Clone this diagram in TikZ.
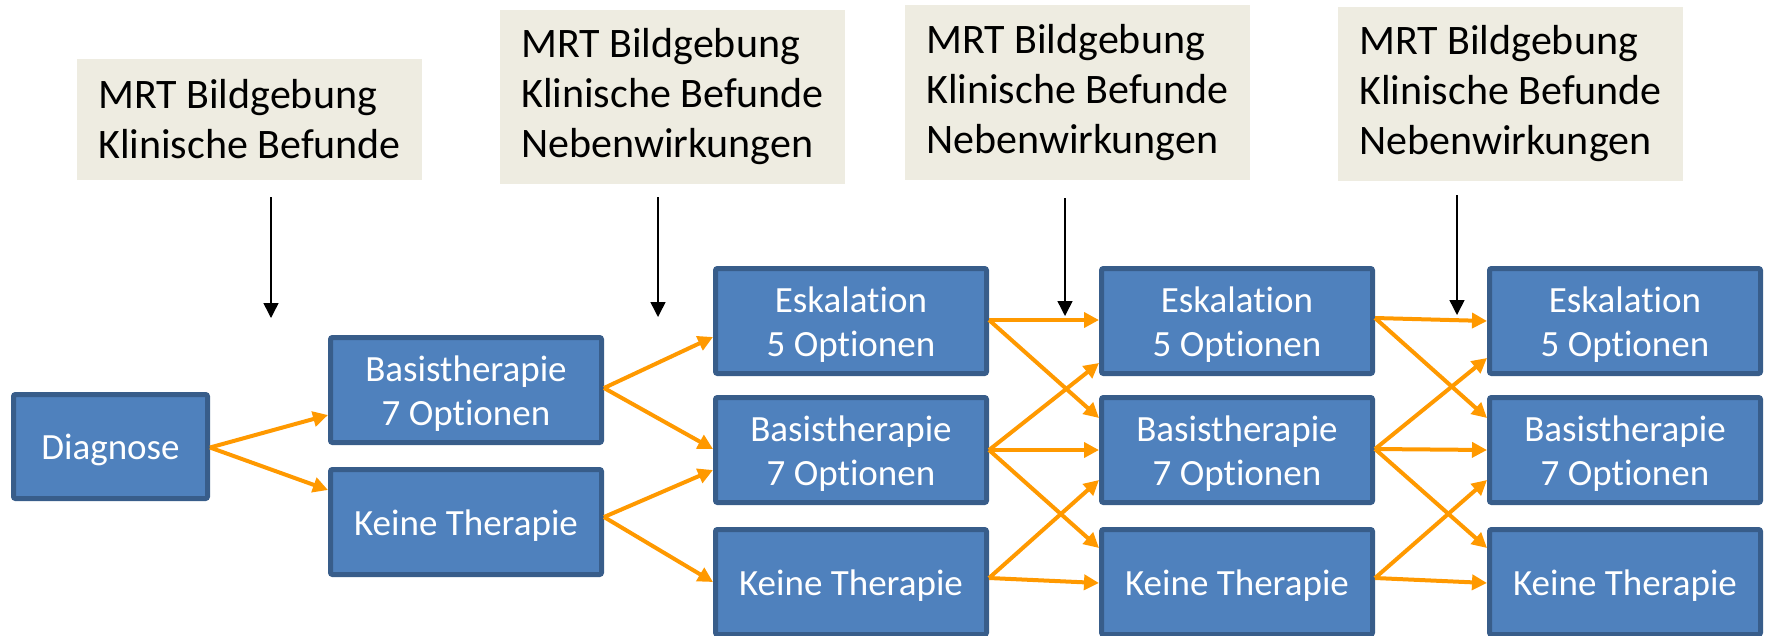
\documentclass[tikz,border=0pt]{standalone}
\usepackage{fontspec}
\newfontfamily\calib{Carlito}[Ligatures=NoCommon]
\usetikzlibrary{arrows.meta,calc}
\definecolor{boxfill}{HTML}{4F81BD}
\definecolor{boxline}{HTML}{385D8A}
\definecolor{notefill}{HTML}{EEECE1}
\definecolor{flow}{RGB}{255,153,0}
% uniform height for the first line of each stage label
\newcommand\stagestrut{\rule{0pt}{33pt}}
\tikzset{
  stage/.style={draw=boxline, fill=boxfill, line width=5pt, rounded corners=2pt,
    minimum width=271pt, minimum height=105pt, inner sep=0pt, align=center,
    text=white, font=\calib\fontsize{37}{44}\selectfont},
  note/.style={fill=notefill, inner xsep=21pt, inner ysep=0pt, align=left,
    anchor=west, text=black, font=\calib\fontsize{42}{50}\selectfont},
  flowarrow/.style={draw=flow, line width=4pt, -{Triangle[length=15pt,width=15pt]}},
  infoarrow/.style={draw=black, line width=1.5pt, -{Triangle[length=15pt,width=15pt]}}
}
\begin{document}
\begin{tikzpicture}[x=1pt, y=-1pt]
\useasboundingbox (0,0) rectangle (1769,635);

% information boxes along the top
\node[note, minimum height=121pt] (n1) at (77,119.5) {MRT Bildgebung\\Klinische Befunde};
\node[note, minimum height=174pt] (n2) at (500,97) {MRT Bildgebung\\Klinische Befunde\\Nebenwirkungen};
\node[note, minimum height=175pt] (n3) at (905,92.5) {MRT Bildgebung\\Klinische Befunde\\Nebenwirkungen};
\node[note, minimum height=174pt] (n4) at (1338,94) {MRT Bildgebung\\Klinische Befunde\\Nebenwirkungen};

% decision points
\coordinate (p1s) at (271,197); \coordinate (p1e) at (271,318);
\coordinate (p2s) at (658,197); \coordinate (p2e) at (658,317);
\coordinate (p3s) at (1065,198); \coordinate (p3e) at (1065,316);
\coordinate (p4s) at (1457,195); \coordinate (p4e) at (1457,315);
\draw[infoarrow] (p1s) -- (p1e);
\draw[infoarrow] (p2s) -- (p2e);
\draw[infoarrow] (p3s) -- (p3e);
\draw[infoarrow] (p4s) -- (p4e);

% therapy stages
\node[stage, minimum width=194pt, minimum height=104pt] (diag) at (110.5,446.5) {\stagestrut Diagnose};
\node[stage] (b1) at (466,390) {\stagestrut Basistherapie\\7 Optionen};
\node[stage] (k1) at (466,522) {\stagestrut Keine Therapie};

\node[stage] (e2) at (851,321) {\stagestrut Eskalation\\5 Optionen};
\node[stage] (b2) at (851,450) {\stagestrut Basistherapie\\7 Optionen};
\node[stage] (k2) at (851,582) {\stagestrut Keine Therapie};

\node[stage] (e3) at (1237,321) {\stagestrut Eskalation\\5 Optionen};
\node[stage] (b3) at (1237,450) {\stagestrut Basistherapie\\7 Optionen};
\node[stage] (k3) at (1237,582) {\stagestrut Keine Therapie};

\node[stage] (e4) at (1625,321) {\stagestrut Eskalation\\5 Optionen};
\node[stage] (b4) at (1625,450) {\stagestrut Basistherapie\\7 Optionen};
\node[stage] (k4) at (1625,582) {\stagestrut Keine Therapie};

% transitions
\draw[flowarrow] ($(diag.east)+(0,1)$) -- ($(b1.west)+(0,25)$);
\draw[flowarrow] ($(diag.east)+(0,1)$) -- ($(k1.west)+(0,-32)$);

\draw[flowarrow] ($(b1.east)+(0,-2)$) -- ($(e2.west)+(0,16)$);
\draw[flowarrow] ($(b1.east)+(0,-2)$) -- ($(b2.west)+(0,-1)$);
\draw[flowarrow] ($(k1.east)+(0,-5)$) -- ($(b2.west)+(0,20)$);
\draw[flowarrow] ($(k1.east)+(0,-5)$) -- (k2.west);

\draw[flowarrow] ($(e2.east)+(0,-1)$) -- ($(e3.west)+(0,-1)$);
\draw[flowarrow] ($(e2.east)+(0,-1)$) -- ($(b3.west)+(0,-32)$);
\draw[flowarrow] (b2.east) -- ($(e3.west)+(0,42)$);
\draw[flowarrow] (b2.east) -- (b3.west);
\draw[flowarrow] (b2.east) -- ($(k3.west)+(0,-34)$);
\draw[flowarrow] ($(k2.east)+(0,-4)$) -- ($(b3.west)+(0,30)$);
\draw[flowarrow] ($(k2.east)+(0,-4)$) -- ($(k3.west)+(0,1)$);

\draw[flowarrow] ($(e3.east)+(0,-3)$) -- (e4.west);
\draw[flowarrow] ($(e3.east)+(0,-3)$) -- ($(b4.west)+(0,-32)$);
\draw[flowarrow] ($(b3.east)+(0,-1)$) -- ($(e4.west)+(0,37)$);
\draw[flowarrow] ($(b3.east)+(0,-1)$) -- (b4.west);
\draw[flowarrow] ($(b3.east)+(0,-1)$) -- ($(k4.west)+(0,-34)$);
\draw[flowarrow] ($(k3.east)+(0,-4)$) -- ($(b4.west)+(0,30)$);
\draw[flowarrow] ($(k3.east)+(0,-4)$) -- ($(k4.west)+(0,1)$);
\end{tikzpicture}
\end{document}
